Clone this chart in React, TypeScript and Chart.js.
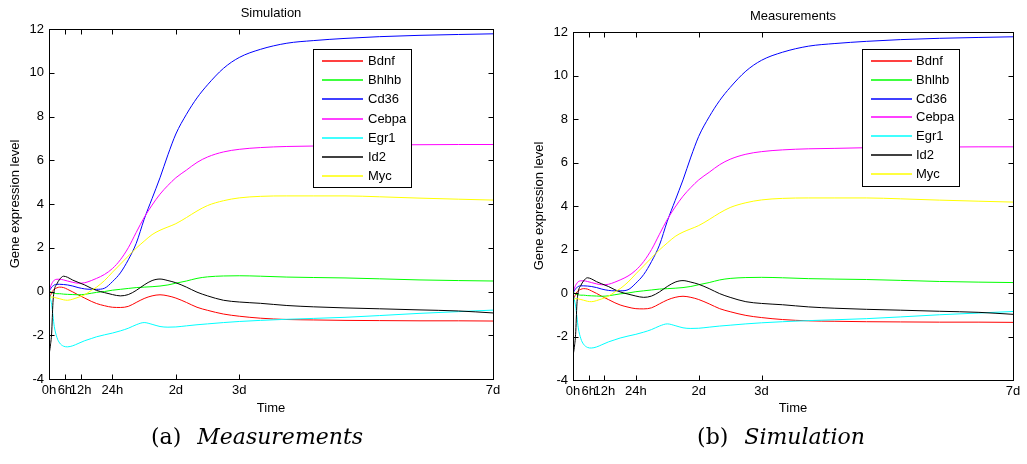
import React, { useEffect, useRef } from "react";
import { Chart, registerables } from "chart.js";

Chart.register(...registerables);

// ---------------- data ----------------
const timesHours = [0, 0.5, 1, 1.5, 2, 3, 4, 5.5, 7, 9, 11, 13.5, 16, 18, 21, 24, 27, 30, 33, 36, 39, 42, 45, 48, 52, 56, 60, 66, 72, 80, 90, 100, 112, 125, 140, 155, 168];

const bdnf = [-0.3, -0.2, -0.05, 0.05, 0.1, 0.17, 0.2, 0.18, 0.1, -0.02, -0.15, -0.3, -0.45, -0.55, -0.65, -0.72, -0.73, -0.68, -0.5, -0.32, -0.2, -0.15, -0.2, -0.3, -0.5, -0.72, -0.86, -1.03, -1.13, -1.22, -1.28, -1.3, -1.32, -1.33, -1.34, -1.34, -1.35];
const bhlhb = [0.05, 0.0, -0.05, -0.07, -0.08, -0.1, -0.1, -0.12, -0.13, -0.14, -0.15, -0.13, -0.08, -0.04, 0.0, 0.06, 0.1, 0.14, 0.18, 0.2, 0.22, 0.25, 0.3, 0.38, 0.48, 0.6, 0.67, 0.71, 0.72, 0.7, 0.66, 0.64, 0.62, 0.58, 0.53, 0.5, 0.48];
const cd36 = [0.0, 0.1, 0.2, 0.25, 0.3, 0.33, 0.33, 0.32, 0.3, 0.25, 0.18, 0.12, 0.1, 0.1, 0.15, 0.45, 0.85, 1.45, 2.2, 3.3, 4.25, 5.2, 6.25, 7.2, 8.1, 8.85, 9.45, 10.2, 10.7, 11.07, 11.35, 11.47, 11.57, 11.65, 11.71, 11.75, 11.78];
const cebpa = [0.0, 0.2, 0.35, 0.45, 0.52, 0.56, 0.56, 0.53, 0.48, 0.42, 0.38, 0.4, 0.5, 0.6, 0.78, 1.05, 1.45, 2.0, 2.7, 3.38, 3.95, 4.45, 4.85, 5.2, 5.55, 5.9, 6.15, 6.38, 6.5, 6.58, 6.63, 6.65, 6.68, 6.7, 6.71, 6.72, 6.72];
const egr1 = [0.0, -0.3, -0.6, -1.1, -1.6, -2.1, -2.35, -2.5, -2.53, -2.48, -2.38, -2.25, -2.15, -2.07, -1.98, -1.9, -1.8, -1.68, -1.52, -1.42, -1.5, -1.6, -1.63, -1.62, -1.57, -1.52, -1.48, -1.42, -1.37, -1.32, -1.27, -1.23, -1.18, -1.1, -1.0, -0.92, -0.85];
const id2 = [-2.9, -2.5, -1.9, -0.5, 0.05, 0.35, 0.55, 0.7, 0.65, 0.52, 0.42, 0.3, 0.15, 0.05, -0.05, -0.14, -0.2, -0.14, 0.05, 0.3, 0.5, 0.57, 0.5, 0.4, 0.2, -0.03, -0.2, -0.4, -0.48, -0.54, -0.64, -0.7, -0.75, -0.79, -0.84, -0.89, -0.98];
const myc = [-0.3, -0.3, -0.25, -0.25, -0.27, -0.3, -0.33, -0.38, -0.4, -0.35, -0.27, -0.15, 0.05, 0.2, 0.5, 0.88, 1.25, 1.62, 1.98, 2.3, 2.6, 2.8, 2.95, 3.1, 3.38, 3.68, 3.93, 4.15, 4.28, 4.35, 4.37, 4.37, 4.37, 4.33, 4.27, 4.22, 4.18];

const geneNames = ["Bdnf", "Bhlhb", "Cd36", "Cebpa", "Egr1", "Id2", "Myc"];
const geneSeries = [bdnf, bhlhb, cd36, cebpa, egr1, id2, myc];

const xTickHours = [0, 6, 12, 24, 48, 72, 168];
const xTickLabels = ["0h", "6h", "12h", "24h", "2d", "3d", "7d"];

// ---------------- style ----------------
const lineColors = ["#ff0000", "#00ff00", "#0000ff", "#ff00ff", "#00ffff", "#000000", "#ffff00"];
const SANS = '"Liberation Sans", Arial, sans-serif';
const FONT_SIZE = 13;

type PanelCfg = {
  title: string;
  canvasLeft: number;
  canvasW: number;
  canvasH: number;
  area: { left: number; right: number; top: number; bottom: number };
  yTitleCenter: number;
  legend: { x: number; y: number; w: number; h: number; l0: number; l1: number; tx: number; row0: number; dy: number };
};

const matlabPlugin = {
  id: "matlabFrame",
  afterDatasetsDraw(chart: any, _args: any, opts: any) {
    const { ctx, chartArea } = chart;
    const { left, right, top, bottom } = chartArea;
    const xs = chart.scales.x;
    const ys = chart.scales.y;
    ctx.save();
    ctx.strokeStyle = "#000";
    ctx.lineWidth = 1;
    const L = Math.round(left) + 0.5;
    const R = Math.round(right) + 0.5;
    const T = Math.round(top) + 0.5;
    const B = Math.round(bottom) + 0.5;
    ctx.beginPath();
    xs.ticks.forEach((t: any) => {
      const px = Math.round(xs.getPixelForValue(t.value)) + 0.5;
      ctx.moveTo(px, B);
      ctx.lineTo(px, B - 5);
      ctx.moveTo(px, T);
      ctx.lineTo(px, T + 5);
    });
    ys.ticks.forEach((t: any) => {
      const py = Math.round(ys.getPixelForValue(t.value)) + 0.5;
      ctx.moveTo(L, py);
      ctx.lineTo(L + 5, py);
      ctx.moveTo(R, py);
      ctx.lineTo(R - 5, py);
    });
    ctx.stroke();
    ctx.strokeRect(L, T, R - L, B - T);

    // title
    ctx.fillStyle = "#000";
    ctx.font = `${FONT_SIZE}px ${SANS}`;
    ctx.textAlign = "center";
    ctx.textBaseline = "middle";
    ctx.fillText(opts.title, (left + right) / 2, top - 15.5);

    // legend
    const lg = opts.legend;
    ctx.fillStyle = "#fff";
    ctx.fillRect(lg.x, lg.y, lg.w, lg.h);
    ctx.strokeStyle = "#000";
    ctx.lineWidth = 1;
    ctx.strokeRect(Math.round(lg.x) + 0.5, Math.round(lg.y) + 0.5, Math.round(lg.w), Math.round(lg.h));
    ctx.textAlign = "left";
    const items = chart.data.datasets;
    for (let i = 0; i < items.length; i++) {
      const y = Math.round(lg.row0 + i * lg.dy);
      ctx.beginPath();
      ctx.strokeStyle = lineColors[i];
      ctx.lineWidth = 1.4;
      ctx.moveTo(lg.l0, y);
      ctx.lineTo(lg.l1, y);
      ctx.stroke();
      ctx.fillStyle = "#000";
      ctx.fillText(items[i].label, lg.tx, y);
    }
    ctx.restore();
  },
};

function Panel({ cfg }: { cfg: PanelCfg }) {
  const ref = useRef<HTMLCanvasElement>(null);
  useEffect(() => {
    const canvas = ref.current;
    if (!canvas) return;
    const { area, canvasW, canvasH } = cfg;
    const datasets = geneNames.map((name, i) => ({
      label: name,
      data: timesHours.map((t, k) => ({ x: t, y: geneSeries[i][k] })),
      borderColor: lineColors[i],
      backgroundColor: lineColors[i],
      borderWidth: 1,
      pointRadius: 0,
      fill: false,
      cubicInterpolationMode: "monotone" as const,
      order: geneNames.length - i,
    }));
    const chart = new Chart(canvas, {
      type: "line",
      data: { datasets },
      plugins: [matlabPlugin],
      options: {
        responsive: false,
        animation: false,
        events: [],
        layout: { padding: { left: 0, top: area.top, right: canvasW - area.right, bottom: 0 } },
        plugins: {
          legend: { display: false },
          tooltip: { enabled: false },
          title: { display: false },
          matlabFrame: { title: cfg.title, legend: cfg.legend },
        } as any,
        scales: {
          x: {
            type: "linear",
            min: 0,
            max: 168,
            afterBuildTicks: (s: any) => {
              s.ticks = xTickHours.map((v) => ({ value: v }));
            },
            afterFit: (s: any) => {
              s.height = canvasH - area.bottom;
            },
            grid: { display: false, drawTicks: false, tickLength: 0 },
            border: { display: false },
            ticks: {
              autoSkip: false,
              maxRotation: 0,
              minRotation: 0,
              padding: 4,
              color: "#000",
              font: { family: SANS, size: FONT_SIZE },
              callback: (v: any) => {
                const idx = xTickHours.indexOf(Number(v));
                return idx >= 0 ? xTickLabels[idx] : "";
              },
            },
            title: {
              display: true,
              text: "Time",
              color: "#000",
              font: { family: SANS, size: FONT_SIZE },
              padding: { top: 0, bottom: 9 },
            },
          },
          y: {
            type: "linear",
            min: -4,
            max: 12,
            afterFit: (s: any) => {
              s.width = area.left;
            },
            grid: { display: false, drawTicks: false, tickLength: 0 },
            border: { display: false },
            ticks: {
              stepSize: 2,
              padding: 5,
              color: "#000",
              font: { family: SANS, size: FONT_SIZE },
            },
            title: {
              display: true,
              text: "Gene expression level",
              color: "#000",
              font: { family: SANS, size: FONT_SIZE },
              padding: { top: cfg.yTitleCenter - FONT_SIZE * 0.6, bottom: 0 },
            },
          },
        },
      },
    });
    return () => chart.destroy();
  }, [cfg]);
  return (
    <canvas
      ref={ref}
      width={cfg.canvasW}
      height={cfg.canvasH}
      style={{ position: "absolute", left: cfg.canvasLeft, top: 0, width: cfg.canvasW, height: cfg.canvasH }}
    />
  );
}

const leftCfg: PanelCfg = {
  title: "Simulation",
  canvasLeft: 0,
  canvasW: 515,
  canvasH: 425,
  area: { left: 49, right: 493, top: 29, bottom: 379 },
  yTitleCenter: 15,
  legend: { x: 313, y: 49, w: 98, h: 138, l0: 322, l1: 363, tx: 368, row0: 61, dy: 19.2 },
};

const rightCfg: PanelCfg = {
  title: "Measurements",
  canvasLeft: 515,
  canvasW: 512,
  canvasH: 425,
  area: { left: 58, right: 498, top: 32, bottom: 380 },
  yTitleCenter: 24,
  legend: { x: 347, y: 49, w: 97, h: 137, l0: 356, l1: 397, tx: 401, row0: 60.7, dy: 18.9 },
};

const captionStyle: React.CSSProperties = {
  position: "absolute",
  top: 437,
  transform: "translate(-50%, -50%)",
  fontFamily: '"DejaVu Serif", "Liberation Serif", serif',
  fontSize: 22,
  whiteSpace: "nowrap",
  color: "#000",
  lineHeight: 1,
};

export default function App() {
  return (
    <div style={{ position: "absolute", left: 0, top: 0, width: 1027, height: 464, background: "#fff", overflow: "hidden" }}>
      <Panel cfg={leftCfg} />
      <Panel cfg={rightCfg} />
      <div style={{ ...captionStyle, left: 257 }}>
        (a)<i style={{ marginLeft: 16 }}>Measurements</i>
      </div>
      <div style={{ ...captionStyle, left: 781 }}>
        (b)<i style={{ marginLeft: 16 }}>Simulation</i>
      </div>
    </div>
  );
}
